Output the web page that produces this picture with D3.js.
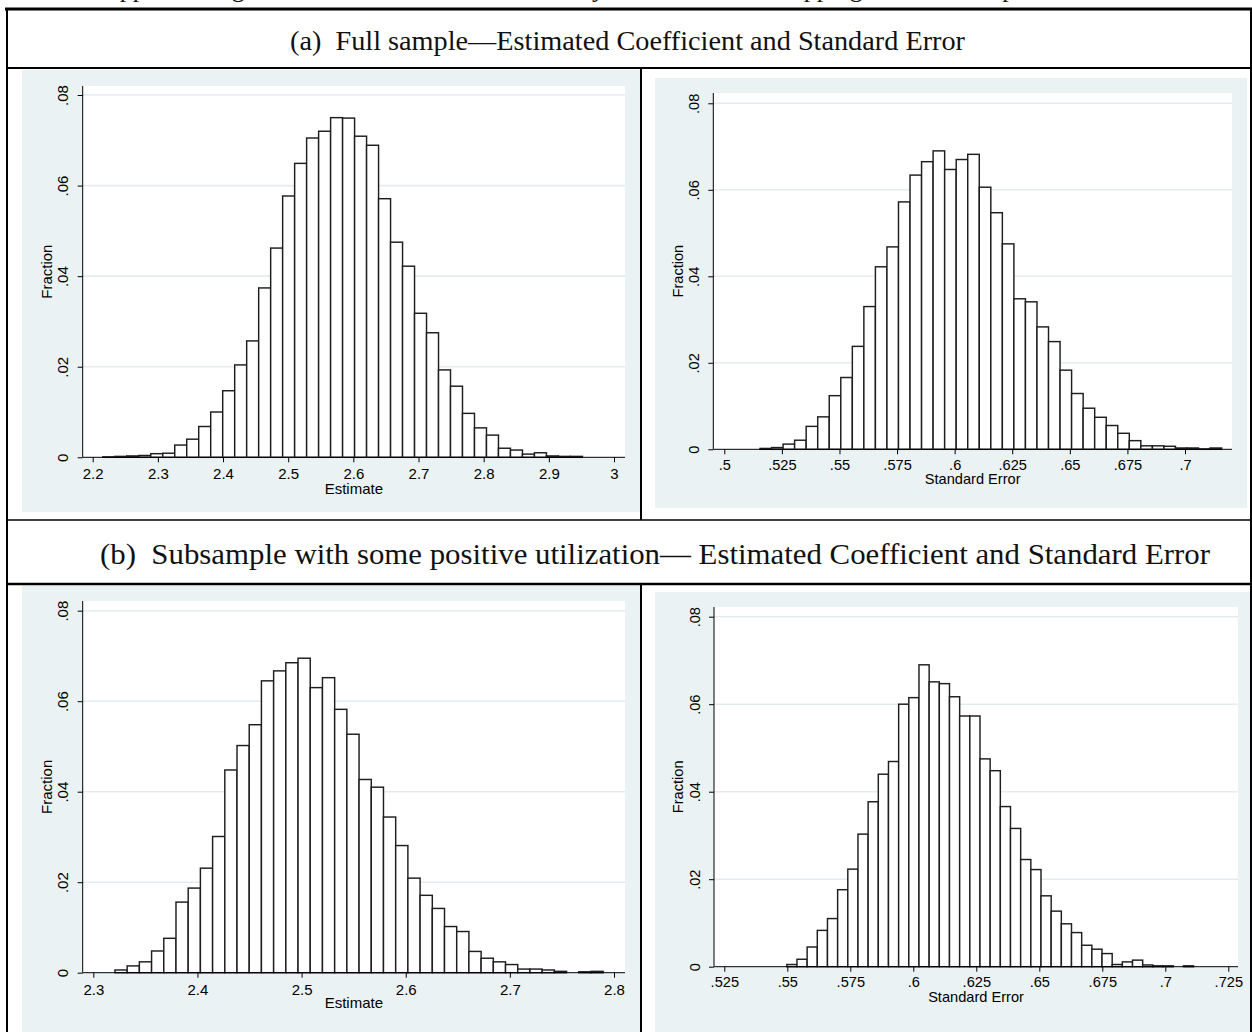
<!DOCTYPE html>
<html>
<head>
<meta charset="utf-8">
<script src="https://cdn.jsdelivr.net/npm/d3@7"></script>
<style>
  html, body { margin: 0; padding: 0; background: #ffffff; }
  svg { display: block; }
</style>
</head>
<body>
<svg id="chart" width="1252" height="1032"></svg>
<script>
// ---------------- DATA ----------------
const pageTitle = "Appendix Figure 2: Distribution of Estimates by Means of Bootstrapping the Full Sample";
const headerA = "(a)\u00A0 Full sample\u2014Estimated Coefficient and Standard Error";
const headerB = "(b)\u00A0 Subsample with some positive utilization\u2014 Estimated Coefficient and Standard Error";

const yAxisTitle = "Fraction";
const fractionTicks = [0, 0.02, 0.04, 0.06, 0.08];
const fractionTickLabels = ["0", ".02", ".04", ".06", ".08"];

const estimateTitle = "Estimate";
const seTitle = "Standard Error";

const fullEstTicks = [2.2, 2.3, 2.4, 2.5, 2.6, 2.7, 2.8, 2.9, 3.0];
const fullEstTickLabels = ["2.2", "2.3", "2.4", "2.5", "2.6", "2.7", "2.8", "2.9", "3"];
const fullSeTicks = [0.5, 0.525, 0.55, 0.575, 0.6, 0.625, 0.65, 0.675, 0.7];
const fullSeTickLabels = [".5", ".525", ".55", ".575", ".6", ".625", ".65", ".675", ".7"];
const subEstTicks = [2.3, 2.4, 2.5, 2.6, 2.7, 2.8];
const subEstTickLabels = ["2.3", "2.4", "2.5", "2.6", "2.7", "2.8"];
const subSeTicks = [0.525, 0.55, 0.575, 0.6, 0.625, 0.65, 0.675, 0.7, 0.725];
const subSeTickLabels = [".525", ".55", ".575", ".6", ".625", ".65", ".675", ".7", ".725"];

// histogram bins: first bin lower edge and bin width (value units), 40 bins each
const fullEstBinStart = 2.2155, fullEstBinWidth = 0.0184;
const fullEstFractions = [0.0001,0.0002,0.0003,0.0004,0.0008,0.0009,0.0027,0.0040,0.0068,0.0100,
  0.0147,0.0204,0.0257,0.0374,0.0462,0.0577,0.0649,0.0705,0.0720,0.0750,
  0.0749,0.0709,0.0689,0.0571,0.0475,0.0422,0.0318,0.0275,0.0193,0.0157,
  0.0097,0.0065,0.0049,0.0020,0.0016,0.0007,0.0010,0.0003,0.0002,0.0002];

const fullSeBinStart = 0.5155, fullSeBinWidth = 0.00501;
const fullSeFractions = [0.0002,0.0004,0.0012,0.0021,0.0053,0.0075,0.0124,0.0166,0.0238,0.0330,
  0.0422,0.0468,0.0572,0.0634,0.0665,0.0690,0.0647,0.0670,0.0682,0.0606,
  0.0547,0.0475,0.0348,0.0341,0.0283,0.0249,0.0183,0.0129,0.0095,0.0074,
  0.0055,0.0037,0.0020,0.0008,0.0008,0.0007,0.0003,0.0003,0.0001,0.0003];

const subEstBinStart = 2.3208, subEstBinWidth = 0.01172;
const subEstFractions = [0.0006,0.0015,0.0024,0.0048,0.0076,0.0156,0.0187,0.0231,0.0301,0.0448,
  0.0502,0.0548,0.0645,0.0667,0.0685,0.0695,0.0630,0.0652,0.0582,0.0527,
  0.0427,0.0410,0.0344,0.0281,0.0209,0.0171,0.0142,0.0102,0.0091,0.0047,
  0.0032,0.0024,0.0018,0.0008,0.0008,0.0006,0.0003,0,0.0002,0.0003];

const subSeBinStart = 0.5498, subSeBinWidth = 0.004035;
const subSeFractions = [0.0005,0.0017,0.0045,0.0083,0.0110,0.0176,0.0223,0.0303,0.0377,0.0440,
  0.0469,0.0600,0.0615,0.0690,0.0651,0.0647,0.0617,0.0573,0.0573,0.0475,
  0.0448,0.0366,0.0316,0.0245,0.0222,0.0162,0.0127,0.0098,0.0078,0.0049,
  0.0040,0.0030,0.0005,0.0011,0.0015,0.0004,0.0002,0.0002,0,0.0002];

// ---------------- LAYOUT / STYLE ----------------
const BG = "#EAF2F3", GRID = "#E3ECEE", BAR_LINE = "#1e1e1e";
const sansFont = "'Liberation Sans', Arial, Helvetica, sans-serif";
const serifFont = "'Liberation Serif', 'Times New Roman', serif";

const panels = [
  { gray: [22, 70, 640, 512], plot: [82.7, 86, 625, 457.3], xDomain: [2.2, 3.0], xRange: [92.7, 614],
    yRange: [457.3, 95], ticks: fullEstTicks, labels: fullEstTickLabels, title: estimateTitle,
    start: fullEstBinStart, width: fullEstBinWidth, values: fullEstFractions,
    fs: 15, xLab: 21.5, xTitle: 37, yLab: 14.4, yTitle: 31 },
  { gray: [655, 78, 1247, 508], plot: [713.3, 93, 1232, 449.3], xDomain: [0.5, 0.7], xRange: [724.3, 1185],
    yRange: [449.3, 103.3], ticks: fullSeTicks, labels: fullSeTickLabels, title: seTitle,
    start: fullSeBinStart, width: fullSeBinWidth, values: fullSeFractions,
    fs: 14.6, xLab: 20.5, xTitle: 34.5, yLab: 14.3, yTitle: 30.6 },
  { gray: [22, 585.5, 640, 1032], plot: [82.7, 601, 625, 972.7], xDomain: [2.3, 2.8], xRange: [93.3, 614],
    yRange: [972.7, 610.7], ticks: subEstTicks, labels: subEstTickLabels, title: estimateTitle,
    start: subEstBinStart, width: subEstBinWidth, values: subEstFractions,
    fs: 15, xLab: 22, xTitle: 35.5, yLab: 14.4, yTitle: 30.4 },
  { gray: [655, 592, 1251, 1032], plot: [714, 607, 1238, 966.7], xDomain: [0.525, 0.725], xRange: [724.3, 1228.3],
    yRange: [966.7, 616.7], ticks: subSeTicks, labels: subSeTickLabels, title: seTitle,
    start: subSeBinStart, width: subSeBinWidth, values: subSeFractions,
    fs: 14.6, xLab: 20.8, xTitle: 35.5, yLab: 14.3, yTitle: 30.7 }
];

const svg = d3.select("#chart");
svg.append("rect").attr("width", 1252).attr("height", 1032).attr("fill", "#fff");

// cropped page title (only descenders visible above the table)
svg.append("text").attr("x", 101).attr("y", -3)
  .attr("font-family", serifFont).attr("font-size", 26).attr("fill", "#111")
  .text(pageTitle);

// ---------------- PANELS ----------------
panels.forEach(p => {
  const g = svg.append("g");
  const [gx0, gy0, gx1, gy1] = p.gray;
  const [px0, py0, px1, py1] = p.plot;
  g.append("rect").attr("x", gx0).attr("y", gy0).attr("width", gx1 - gx0).attr("height", gy1 - gy0).attr("fill", BG);
  g.append("rect").attr("x", px0).attr("y", py0).attr("width", px1 - px0).attr("height", py1 - py0).attr("fill", "#fff");

  const x = d3.scaleLinear().domain(p.xDomain).range(p.xRange);
  const y = d3.scaleLinear().domain([0, 0.08]).range(p.yRange);

  // grid lines
  g.selectAll(".grid").data(fractionTicks.filter(t => t > 0)).enter().append("line")
    .attr("x1", px0).attr("x2", px1).attr("y1", d => y(d)).attr("y2", d => y(d))
    .attr("stroke", GRID).attr("stroke-width", 1.6);

  // bars
  const bins = p.values.map((v, i) => ({ x0: p.start + i * p.width, x1: p.start + (i + 1) * p.width, v }))
    .filter(b => b.v > 0);
  g.selectAll(".bar").data(bins).enter().append("rect")
    .attr("x", d => x(d.x0)).attr("width", d => x(d.x1) - x(d.x0))
    .attr("y", d => y(d.v)).attr("height", d => y(0) - y(d.v))
    .attr("fill", "#fff").attr("stroke", BAR_LINE).attr("stroke-width", 1.45);

  // x axis
  const xAxis = d3.axisBottom(x).tickValues(p.ticks).tickSize(5).tickSizeOuter(0)
    .tickFormat((d, i) => p.labels[i]);
  const xg = g.append("g").attr("transform", `translate(0,${py1})`).call(xAxis);
  xg.select(".domain").remove();
  xg.selectAll(".tick line").attr("stroke", "#000");
  xg.selectAll(".tick text").attr("y", p.xLab).attr("dy", 0)
    .attr("font-family", sansFont).attr("font-size", p.fs).attr("fill", "#000");
  g.append("line").attr("x1", px0).attr("x2", px1).attr("y1", py1).attr("y2", py1)
    .attr("stroke", "#000").attr("stroke-width", 1);

  // y axis
  const yAxis = d3.axisLeft(y).tickValues(fractionTicks).tickSize(5).tickSizeOuter(0)
    .tickFormat((d, i) => fractionTickLabels[i]);
  const yg = g.append("g").attr("transform", `translate(${px0},0)`).call(yAxis);
  yg.select(".domain").remove();
  yg.selectAll(".tick line").attr("stroke", "#000");
  yg.selectAll(".tick text").attr("x", 0).attr("y", -p.yLab).attr("dy", 0)
    .attr("transform", "rotate(-90)").attr("text-anchor", "middle")
    .attr("font-family", sansFont).attr("font-size", p.fs).attr("fill", "#000");
  g.append("line").attr("x1", px0).attr("x2", px0).attr("y1", py0).attr("y2", py1)
    .attr("stroke", "#000").attr("stroke-width", 1);

  // axis titles
  g.append("text").attr("x", (px0 + px1) / 2).attr("y", py1 + p.xTitle)
    .attr("text-anchor", "middle").attr("font-family", sansFont).attr("font-size", p.fs)
    .attr("fill", "#000").text(p.title);
  g.append("text").attr("transform", `translate(${px0 - p.yTitle},${(py0 + py1) / 2}) rotate(-90)`)
    .attr("text-anchor", "middle").attr("font-family", sansFont).attr("font-size", p.fs)
    .attr("fill", "#000").text(yAxisTitle);
});

// ---------------- TABLE FRAME ----------------
const lines = [
  [5, 9, 1252, 9, 3],
  [7, 8, 7, 1032, 2],
  [7, 68, 1252, 68, 2],
  [641, 68, 641, 520, 2],
  [7, 520, 1252, 520, 1.5],
  [7, 584, 1252, 584, 2.5],
  [641, 584, 641, 1032, 2],
  [1251, 8, 1251, 1032, 2]
];
svg.selectAll(".frame").data(lines).enter().append("line")
  .attr("x1", d => d[0]).attr("y1", d => d[1]).attr("x2", d => d[2]).attr("y2", d => d[3])
  .attr("stroke", "#000").attr("stroke-width", d => d[4]);

// ---------------- HEADERS ----------------
svg.append("text").attr("x", 290).attr("y", 50)
  .attr("font-family", serifFont).attr("font-size", 28).attr("fill", "#111")
  .attr("textLength", 675).attr("lengthAdjust", "spacingAndGlyphs")
  .text(headerA);
svg.append("text").attr("x", 100).attr("y", 564)
  .attr("font-family", serifFont).attr("font-size", 29).attr("fill", "#111")
  .attr("textLength", 1110).attr("lengthAdjust", "spacingAndGlyphs")
  .text(headerB);
</script>
</body>
</html>
